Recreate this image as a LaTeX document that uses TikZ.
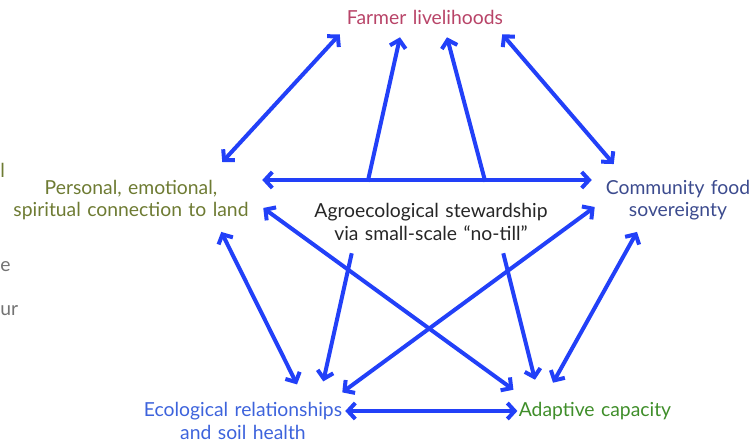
\documentclass[tikz,border=0pt]{standalone}
\usepackage{fontspec}
\setmainfont{Lato}
\usetikzlibrary{arrows.meta}

\definecolor{linkblue}{RGB}{34,64,248}
\definecolor{farmcol}{RGB}{184,68,104}
\definecolor{landcol}{RGB}{110,123,51}
\definecolor{foodcol}{RGB}{60,75,142}
\definecolor{soilcol}{RGB}{61,99,220}
\definecolor{adaptcol}{RGB}{63,142,42}

\begin{document}
\begin{tikzpicture}[x=0.75pt,y=-0.75pt,
		lbl/.style={inner sep=0pt,align=center,font=\fontsize{14.5}{17}\selectfont},
		link/.style={draw=linkblue,line width=3pt,{Straight Barb[length=5.5pt,width=12pt]}-{Straight Barb[length=5.5pt,width=12pt]}},
		oneway/.style={draw=linkblue,line width=3pt,-{Straight Barb[length=5.5pt,width=12pt]}}]
				\useasboundingbox (0,0) rectangle (751,445);
				
				\node[lbl,text=farmcol,text width=120pt,minimum height=13.5pt] (farmer) at (425,17) {Farmer livelihoods};
				\node[lbl,text=landcol,text width=180pt,minimum height=34pt] (land) at (131,200) {Personal, emotional,\\spiritual connection to land};
				\node[lbl,text=foodcol,text width=114pt,minimum height=34pt] (food) at (678,200) {Community food\\sovereignty};
				\node[lbl,text=black!85,text width=180pt,minimum height=33pt] (agro) at (431,222) {Agroecological stewardship\\via small-scale “no-till”};
				\node[lbl,text=soilcol,text width=150pt,minimum height=32pt] (soil) at (243,421) {Ecological relationships\\and soil health};
				\node[lbl,text=adaptcol,text width=116pt,minimum height=13.5pt] (adapt) at (595,411) {Adaptive capacity};
				
				\node[lbl,text=landcol,anchor=west] (fragl) at (0,170) {l};
				\node[lbl,text=black!55,anchor=west] (frage) at (0,267) {e};
				\node[lbl,text=black!55,anchor=west] (fragur) at (0,311) {ur};
				
				\draw[link] ([shift={(-29,-15)}]land.north east) -- ([shift={(-5,8)}]farmer.south west);
				\draw[link] ([shift={(-3,8)}]farmer.south east) -- ([shift={(12,-13)}]food.north west);
				\draw[link] ([shift={(11,-20)}]land.east) -- ([shift={(-10,-20)}]food.west);
				\draw[oneway] ([shift={(57,-18)}]agro.north west) -- ([shift={(-25,11)}]farmer.south);
				\draw[oneway] ([shift={(-66,-18)}]agro.north east) -- ([shift={(22,11)}]farmer.south);
				
				\draw[link] ([shift={(12,8)}]land.east) -- ([shift={(-4,-12)}]adapt.north west);
				\draw[link] ([shift={(-1,-7)}]soil.north east) -- ([shift={(-7,7)}]food.west);
				\draw[link] ([shift={(-30,9)}]land.south east) -- ([shift={(54,-15)}]soil.north);
				\draw[link] ([shift={(-41,9)}]food.south) -- ([shift={(-42,-19)}]adapt.north);
				\draw[oneway] ([shift={(41,9)}]agro.south west) -- ([shift={(-20,-18)}]soil.north east);
				\draw[oneway] ([shift={(-48,9)}]agro.south east) -- ([shift={(-60,-22)}]adapt.north);
				\draw[link] ([shift={(2,-10)}]soil.east) -- (adapt.west);
\end{tikzpicture}
\end{document}
